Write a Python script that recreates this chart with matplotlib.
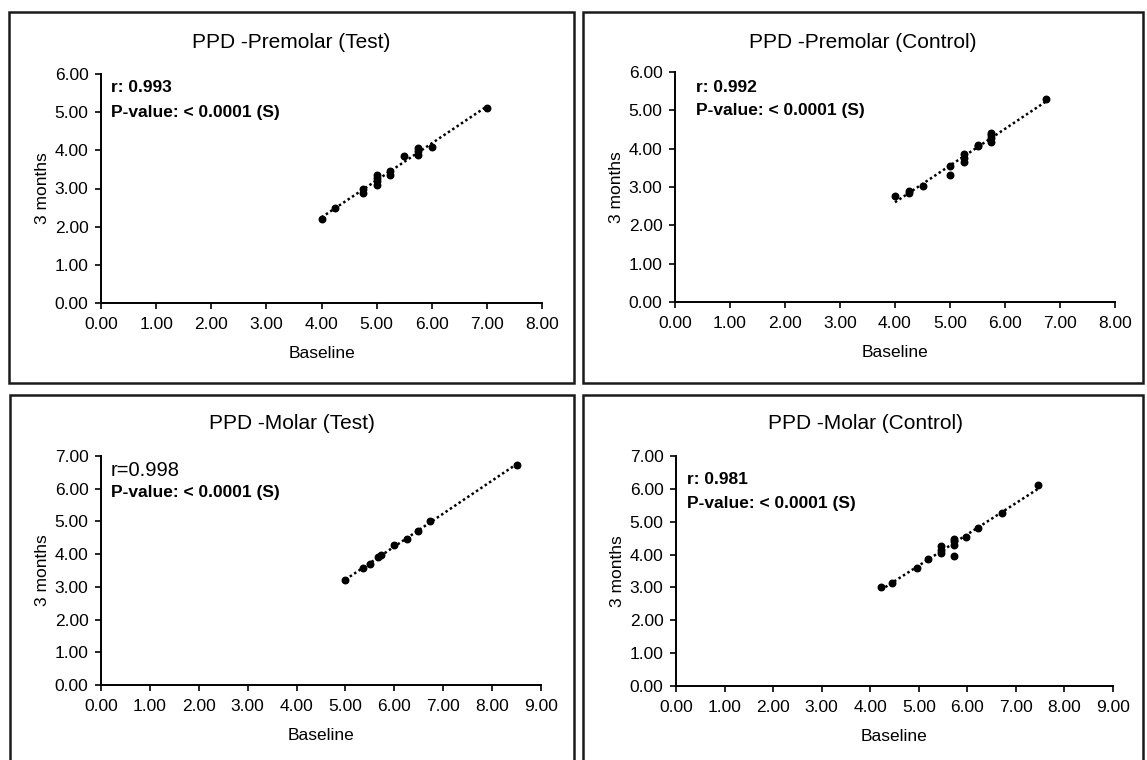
import numpy as np
import matplotlib.pyplot as plt
from matplotlib.patches import Rectangle

plt.rcParams['font.family'] = ['Liberation Sans', 'DejaVu Sans']

# --- data ---
premolar_test_x = [4.0, 4.25, 4.75, 4.75, 5.0, 5.0, 5.0, 5.0, 5.25, 5.25, 5.5, 5.75, 5.75, 5.75, 6.0, 7.0]
premolar_test_y = [2.2, 2.5, 2.88, 2.98, 3.1, 3.2, 3.28, 3.35, 3.36, 3.46, 3.85, 3.88, 3.98, 4.07, 4.1, 5.1]

premolar_ctrl_x = [4.0, 4.25, 4.25, 4.5, 5.0, 5.0, 5.25, 5.25, 5.25, 5.5, 5.5, 5.75, 5.75, 5.75, 5.75, 6.75]
premolar_ctrl_y = [2.76, 2.84, 2.9, 3.02, 3.54, 3.32, 3.65, 3.75, 3.87, 4.07, 4.1, 4.17, 4.27, 4.35, 4.4, 5.29]

molar_test_x = [5.0, 5.36, 5.5, 5.66, 5.73, 6.0, 6.25, 6.48, 6.73, 8.5]
molar_test_y = [3.21, 3.57, 3.69, 3.9, 3.98, 4.27, 4.46, 4.72, 5.0, 6.73]

molar_ctrl_x = [4.22, 4.44, 4.96, 5.2, 5.46, 5.46, 5.46, 5.72, 5.72, 5.72, 5.72, 5.97, 6.22, 6.71, 7.46]
molar_ctrl_y = [3.01, 3.14, 3.6, 3.88, 4.05, 4.15, 4.25, 3.96, 4.3, 4.4, 4.48, 4.52, 4.8, 5.27, 6.13]

titles = ["PPD -Premolar (Test)", "PPD -Premolar (Control)", "PPD -Molar (Test)", "PPD -Molar (Control)"]
r_texts = ["r: 0.993", "r: 0.992", "r=0.998", "r: 0.981"]
p_text = "P-value: < 0.0001 (S)"

W, H = 1147, 760
fig = plt.figure(figsize=(W / 100, H / 100), dpi=100)


def fx(x):
    return x / W


def fy(y):
    return 1 - y / H


# layout in pixels: axes box (left, right, top, bottom), panel frame, title centre, text spots
panels = [
    dict(x=premolar_test_x, y=premolar_test_y, xmax=8, ymax=6, ax=(101, 542, 74, 303),
         frame=(9, 574, 12, 383), title=(291, 42), rpos=(111, 88), ppos=(111, 112), rsize=12.5, rbold=True),
    dict(x=premolar_ctrl_x, y=premolar_ctrl_y, xmax=8, ymax=6, ax=(675, 1115, 72, 302),
         frame=(583, 1143, 12, 383), title=(863, 42), rpos=(696, 88), ppos=(696, 111), rsize=12.5, rbold=True),
    dict(x=molar_test_x, y=molar_test_y, xmax=9, ymax=7, ax=(101, 541, 456, 685),
         frame=(10, 574, 395, 790), title=(292, 424), rpos=(111, 471), ppos=(111, 493), rsize=14.5, rbold=False),
    dict(x=molar_ctrl_x, y=molar_ctrl_y, xmax=9, ymax=7, ax=(676, 1113, 456, 686),
         frame=(583, 1143, 395, 790), title=(865, 424), rpos=(687, 480), ppos=(687, 504), rsize=12.5, rbold=True),
]

for i, p in enumerate(panels):
    l, r, t, b = p["ax"]
    ax = fig.add_axes([fx(l), fy(b), (r - l) / W, (b - t) / H])
    x = np.array(p["x"])
    y = np.array(p["y"])
    ax.scatter(x, y, s=22, color="black", zorder=3, clip_on=False)
    m, c = np.polyfit(x, y, 1)
    xs = np.array([x.min(), x.max()])
    ax.plot(xs, m * xs + c, color="black", lw=1.8, linestyle=(0, (1, 1.1)), zorder=2)

    ax.set_xlim(0, p["xmax"])
    ax.set_ylim(0, p["ymax"])
    xt = np.arange(0, p["xmax"] + 1)
    yt = np.arange(0, p["ymax"] + 1)
    ax.set_xticks(xt)
    ax.set_xticklabels([f"{v:.2f}" for v in xt])
    ax.set_yticks(yt)
    ax.set_yticklabels([f"{v:.2f}" for v in yt])
    for s in ["top", "right"]:
        ax.spines[s].set_visible(False)
    for s in ["left", "bottom"]:
        ax.spines[s].set_linewidth(1.4)
    ax.tick_params(direction="out", length=4, width=1.2, labelsize=12.5)
    ax.tick_params(axis="x", pad=6)
    ax.tick_params(axis="y", pad=5)
    ax.set_xlabel("Baseline", fontsize=12.5, labelpad=10)
    ax.set_ylabel("3 months", fontsize=12.5, labelpad=3)

    fl, fr, ft, fb = p["frame"]
    fig.add_artist(Rectangle((fx(fl), fy(fb)), (fr - fl) / W, (fb - ft) / H,
                             transform=fig.transFigure, fill=False, lw=1.8, ec="#1a1a1a"))
    fig.text(fx(p["title"][0]), fy(p["title"][1]), titles[i], ha="center", va="center", fontsize=15)
    fig.text(fx(p["rpos"][0]), fy(p["rpos"][1]), r_texts[i], ha="left", va="center",
             fontsize=p["rsize"], fontweight="bold" if p["rbold"] else "normal")
    fig.text(fx(p["ppos"][0]), fy(p["ppos"][1]), p_text, ha="left", va="center",
             fontsize=12.5, fontweight="bold")

fig.savefig("out.png", dpi=100)
